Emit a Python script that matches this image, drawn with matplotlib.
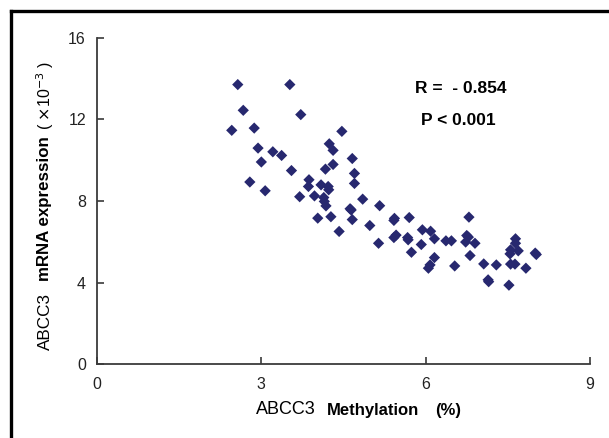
import matplotlib
matplotlib.use("Agg")
import matplotlib.pyplot as plt
from matplotlib.lines import Line2D

plt.rcParams['font.family'] = ['Liberation Sans', 'DejaVu Sans']

# methylation (%) vs ABCC3 mRNA expression (x10^-3)
methylation = [2.57, 3.52, 2.67, 3.72, 2.46, 2.87, 4.47, 4.24, 4.31, 2.94,
               3.21, 3.37, 3.00, 4.66, 4.31, 4.17, 3.55, 4.70, 3.87, 3.86,
               4.09, 4.22, 4.23, 4.70, 2.79, 3.07, 3.70, 3.97, 4.14, 4.15,
               4.18, 4.85, 4.62, 4.64, 4.66, 4.03, 4.27, 4.42, 4.98, 5.16,
               5.43, 5.42, 5.70, 5.14, 5.46, 5.42, 5.67, 5.68, 5.94, 6.09,
               6.16, 6.37, 6.47, 5.92, 5.74, 6.16, 6.08, 6.05, 6.79, 6.75,
               6.73, 6.78, 6.90, 6.81, 6.53, 7.06, 7.29, 7.14, 7.15, 7.52,
               7.64, 7.64, 7.55, 7.54, 7.69, 7.55, 7.63, 7.83, 8.00, 8.02]
expression = [13.70, 13.70, 12.44, 12.23, 11.46, 11.57, 11.41, 10.80, 10.48, 10.59,
              10.41, 10.23, 9.91, 10.08, 9.79, 9.56, 9.49, 9.35, 9.04, 8.71,
              8.79, 8.71, 8.55, 8.86, 8.93, 8.50, 8.21, 8.25, 8.17, 7.98,
              7.76, 8.09, 7.62, 7.56, 7.09, 7.16, 7.23, 6.51, 6.80, 7.77,
              7.15, 7.05, 7.19, 5.93, 6.33, 6.21, 6.21, 6.10, 6.59, 6.52,
              6.15, 6.05, 6.05, 5.87, 5.49, 5.23, 4.87, 4.71, 7.21, 6.31,
              5.99, 6.23, 5.93, 5.33, 4.82, 4.92, 4.87, 4.14, 4.05, 3.88,
              6.15, 5.93, 5.61, 5.41, 5.56, 4.91, 4.91, 4.71, 5.45, 5.38]

xticks = [0, 3, 6, 9]
yticks = [0, 4, 8, 12, 16]

W, H = 609, 438
fig = plt.figure(figsize=(W / 100, H / 100), dpi=100)
ax = fig.add_axes([97 / W, 1 - 364.4 / H, (590 - 97) / W, (364.4 - 37.6) / H])

ax.scatter(methylation, expression, marker='D', s=33, color='#27286f',
           edgecolors='none', zorder=3)

ax.set_xlim(0, 9)
ax.set_ylim(0, 16)
ax.set_xticks(xticks)
ax.set_yticks(yticks)
for s in ['top', 'right']:
    ax.spines[s].set_visible(False)
for s in ['left', 'bottom']:
    ax.spines[s].set_color('#3a3a3a')
    ax.spines[s].set_linewidth(1.3)
ax.tick_params(direction='in', length=5, width=1.2, color='#3a3a3a',
               labelsize=11.5, labelcolor='#222222')
ax.tick_params(axis='y', pad=8)
ax.tick_params(axis='x', pad=9)

# statistics
ax.text(415 / W, 1 - 93 / H, "R =  - 0.854", transform=fig.transFigure,
        fontsize=12.5, fontweight='bold', ha='left', va='baseline')
ax.text(421 / W, 1 - 125 / H, "P < 0.001", transform=fig.transFigure,
        fontsize=12.5, fontweight='bold', ha='left', va='baseline')

# x label (mixed weights)
xy = 1 - 410 / H
fig.text(286 / W, xy, "ABCC3", fontsize=13, ha='center', va='center')
fig.text(373 / W, xy, "Methylation", fontsize=12, fontweight='bold',
         ha='center', va='center')
fig.text(448 / W, xy, "(%)", fontsize=12, fontweight='bold',
         ha='center', va='center')

# y label (mixed weights)
yx = 45 / W
fig.text(yx, 1 - 321 / H, "ABCC3", fontsize=12.3, rotation=90,
         ha='center', va='center')
fig.text(yx, 1 - 209 / H, "mRNA expression", fontsize=12.2, fontweight='bold',
         rotation=90, ha='center', va='center')
fig.text(yx, 1 - 96 / H, r"( $\times$10$^{-3}$ )", fontsize=11.5, rotation=90,
         ha='center', va='center')

# frame of the original figure (left and top edges)
fig.add_artist(Line2D([11 / W, 11 / W], [0, 1 - 11 / H], color='black',
                      lw=2.4, transform=fig.transFigure))
fig.add_artist(Line2D([11 / W, 1], [1 - 11 / H, 1 - 11 / H], color='black',
                      lw=2.4, transform=fig.transFigure))

fig.savefig("out.png", dpi=100)
